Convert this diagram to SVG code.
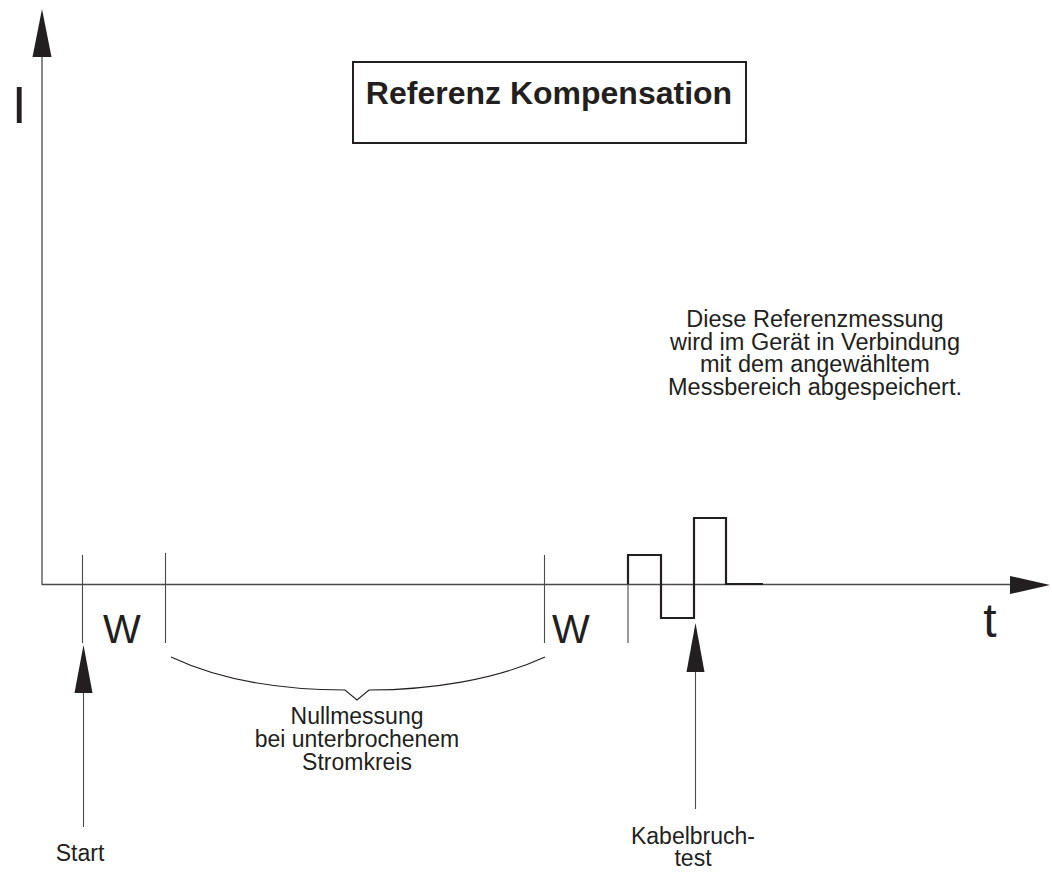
<svg xmlns="http://www.w3.org/2000/svg" width="1052" height="873" viewBox="0 0 1052 873">
<style>
text{font-family:"Liberation Sans",Arial,Helvetica,sans-serif;fill:#231f20}
.ax{stroke:#4a4a4a;stroke-width:1.3;fill:none}
.tk{stroke:#4a4a4a;stroke-width:1.1;fill:none}
.pulse{stroke:#231f20;stroke-width:2.2;fill:none}
.ah{fill:#231f20}
.lbl{font-size:23px;text-anchor:middle}
.note{font-size:23.5px;text-anchor:middle}
.big{font-size:40px;text-anchor:middle}
</style>
<rect width="1052" height="873" fill="#fff"/>
<g id="title">
<rect x="353" y="62" width="393" height="81" fill="#fff" stroke="#231f20" stroke-width="2"/>
<text x="549" y="104" font-size="32" font-weight="bold" text-anchor="middle">Referenz Kompensation</text>
</g>
<g id="axes">
<line class="ax" x1="42" y1="50" x2="42" y2="585"/>
<polygon class="ah" points="42,9 51.5,57 32.5,57"/>
<line class="ax" x1="42" y1="584.5" x2="1015" y2="584.5"/>
<polygon class="ah" points="1050,585 1010,576 1010,594"/>
<text x="12" y="123" font-size="52">I</text>
<text x="990" y="637" font-size="48" text-anchor="middle">t</text>
</g>
<g id="connectors">
<line class="tk" x1="82.5" y1="555" x2="82.5" y2="643"/>
<line class="tk" x1="165.5" y1="553" x2="165.5" y2="643"/>
<line class="tk" x1="544.5" y1="555" x2="544.5" y2="643"/>
<line class="tk" x1="628" y1="555" x2="628" y2="643"/>
<polyline class="pulse" points="628,584 628,555 661,555 661,618 694,618 694,518 726,518 726,584 763,584"/>
<path d="M171,657 C220,680 280,690 345,690 L357,700 L369,690 C430,690 495,680 545,657" fill="none" stroke="#231f20" stroke-width="1.1"/>
<line class="tk" x1="83.5" y1="690" x2="83.5" y2="827"/>
<polygon class="ah" points="83.5,645 92.5,693 74.5,693"/>
<line class="tk" x1="695.5" y1="670" x2="695.5" y2="809"/>
<polygon class="ah" points="695.5,623 704.5,672 686.5,672"/>
</g>
<g id="labels">
<text class="big" x="122" y="643">W</text>
<text class="big" x="571" y="643">W</text>
<text class="lbl" x="80" y="861">Start</text>
<text class="lbl" x="693" y="844">Kabelbruch-</text>
<text class="lbl" x="693" y="866">test</text>
<text class="lbl" x="357" y="724">Nullmessung</text>
<text class="lbl" x="357" y="747">bei unterbrochenem</text>
<text class="lbl" x="357" y="770">Stromkreis</text>
<text class="note" x="815" y="327">Diese Referenzmessung</text>
<text class="note" x="815" y="350">wird im Gerät in Verbindung</text>
<text class="note" x="815" y="372">mit dem angewähltem</text>
<text class="note" x="815" y="395">Messbereich abgespeichert.</text>
</g>
</svg>
